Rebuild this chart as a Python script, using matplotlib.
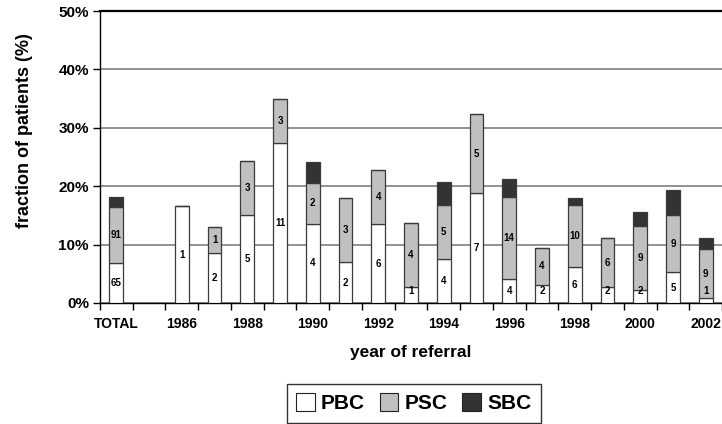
import numpy as np
import matplotlib.pyplot as plt
from matplotlib.patches import Patch
from matplotlib.ticker import MultipleLocator, FixedLocator

# ---------------------------------------------------------------------------
# Data (fraction of patients, %)
# ---------------------------------------------------------------------------

CATEGORIES = ["TOTAL", "", "1986", "1987", "1988", "1989", "1990", "1991",
              "1992", "1993", "1994", "1995", "1996", "1997", "1998", "1999",
              "2000", "2001", "2002"]

# cumulative tops of each segment
PBC_TOP = [6.8, 0, 16.6, 8.5, 15.1, 27.4, 13.6, 7.0, 13.5, 2.7, 7.5, 18.8,
           4.1, 3.0, 6.2, 2.7, 2.2, 5.3, 0.9]
PSC_TOP = [16.5, 0, 16.6, 13.0, 24.3, 34.9, 20.6, 17.9, 22.8, 13.75, 16.8, 32.3,
           18.2, 9.5, 16.7, 11.1, 13.1, 15.0, 9.2]
SBC_TOP = [18.2, 0, 16.6, 13.0, 24.3, 34.9, 24.2, 17.9, 22.8, 13.75, 20.7, 32.3,
           21.3, 9.5, 17.9, 11.1, 15.6, 19.3, 11.1]

PBC_N = [65, None, 1, 2, 5, 11, 4, 2, 6, 1, 4, 7, 4, 2, 6, 2, 2, 5, 1]
PSC_N = [91, None, None, 1, 3, 3, 2, 3, 4, 4, 5, 5, 14, 4, 10, 6, 9, 9, 9]

COLORS = {"PBC": "white", "PSC": "#c0c0c0", "SBC": "#333333"}
EDGE = "#3a3a3a"

# ---------------------------------------------------------------------------

plt.rcParams.update({
    "font.family": ["Liberation Sans", "DejaVu Sans"],
    "font.weight": "bold",
    "axes.linewidth": 1.0,
})

pbc = np.array(PBC_TOP)
psc = np.array(PSC_TOP) - pbc
sbc = np.array(SBC_TOP) - np.array(PSC_TOP)
x = np.arange(len(CATEGORIES))
mask = np.array([c != "" for c in CATEGORIES])

fig = plt.figure(figsize=(7.22, 4.24), dpi=100)
ax = fig.add_axes([0.1385, 0.2854, 0.8615, 0.6886])

W = 0.42
kw = dict(width=W, edgecolor=EDGE, linewidth=0.9, zorder=3)
ax.bar(x[mask], pbc[mask], color=COLORS["PBC"], **kw)
ax.bar(x[mask], psc[mask], bottom=pbc[mask], color=COLORS["PSC"], **kw)
ax.bar(x[mask], sbc[mask], bottom=np.array(PSC_TOP)[mask], color=COLORS["SBC"], **kw)

for i in range(len(CATEGORIES)):
    if PBC_N[i] is not None:
        ax.text(x[i], max(pbc[i] / 2, 2.0), str(PBC_N[i]), ha="center",
                va="center", fontsize=7, fontweight="bold", zorder=4)
    if PSC_N[i] is not None:
        ax.text(x[i], pbc[i] + psc[i] / 2, str(PSC_N[i]), ha="center",
                va="center", fontsize=7, fontweight="bold", zorder=4)

ax.set_xlim(-0.5, len(CATEGORIES) - 0.5)
ax.set_ylim(0, 50)

ax.yaxis.set_major_locator(MultipleLocator(10))
ax.yaxis.set_major_formatter(plt.FuncFormatter(lambda v, _: f"{v:.0f}%"))
ax.grid(axis="y", color="#7f7f7f", linewidth=1.2, zorder=0)

ax.set_xticks(x[::2])
ax.set_xticklabels(CATEGORIES[::2])
ax.xaxis.set_minor_locator(FixedLocator(np.arange(-0.5, len(CATEGORIES), 1.0)))
ax.tick_params(axis="x", which="major", length=0, pad=10, labelsize=10)
ax.tick_params(axis="x", which="minor", length=5, width=1.0, direction="out")
ax.tick_params(axis="y", length=5, width=1.0, labelsize=11, pad=3)

ax.spines["right"].set_visible(False)
ax.spines["top"].set_linewidth(1.6)

ax.set_xlabel("year of referral", fontsize=12.5, fontweight="bold", labelpad=10)
ax.set_ylabel("fraction of patients (%)", fontsize=13, fontweight="bold")
ax.yaxis.set_label_coords(-0.108, 0.59)

handles = [Patch(facecolor=COLORS[k], edgecolor="#222222", linewidth=0.8, label=k)
           for k in ("PBC", "PSC", "SBC")]
leg = fig.legend(handles=handles, loc="center", bbox_to_anchor=(0.573, 0.049),
                 ncol=3, frameon=True, fancybox=False, edgecolor="black",
                 prop={"size": 15, "weight": "bold"}, handlelength=0.9,
                 handleheight=0.9, handletextpad=0.3, columnspacing=0.7,
                 borderpad=0.45, borderaxespad=0)
leg.get_frame().set_linewidth(1.0)

fig.savefig("out.png", dpi=100)
